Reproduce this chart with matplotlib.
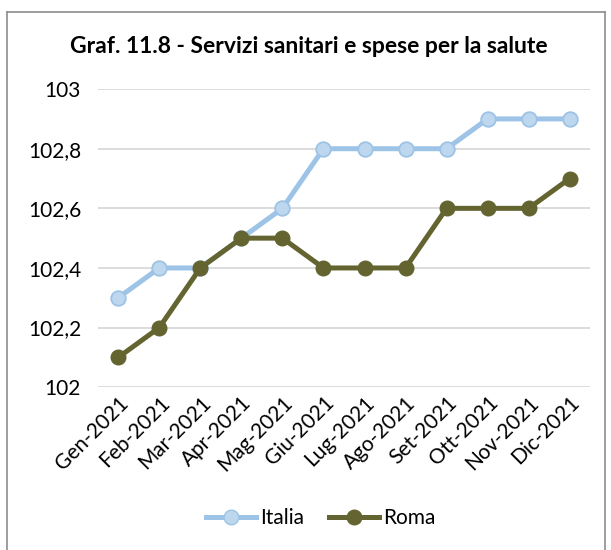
import matplotlib
matplotlib.use("Agg")
import matplotlib.pyplot as plt
from matplotlib.ticker import FuncFormatter
from matplotlib.lines import Line2D

plt.rcParams['font.family'] = ['Lato', 'DejaVu Sans']

mesi = ["Gen-2021", "Feb-2021", "Mar-2021", "Apr-2021", "Mag-2021", "Giu-2021",
        "Lug-2021", "Ago-2021", "Set-2021", "Ott-2021", "Nov-2021", "Dic-2021"]
italia = [102.3, 102.4, 102.4, 102.5, 102.6, 102.8, 102.8, 102.8, 102.8, 102.9, 102.9, 102.9]
roma = [102.1, 102.2, 102.4, 102.5, 102.5, 102.4, 102.4, 102.4, 102.6, 102.6, 102.6, 102.7]

fig = plt.figure(figsize=(6.11, 5.5), dpi=100)
ax = fig.add_axes([0.160, 0.296, 0.806, 0.542])

x = list(range(len(mesi)))
ax.plot(x, italia, color="#9DC3E6", lw=3.6, marker="o", ms=10.5,
        mfc="#BDD7EE", mec="#9DC3E6", mew=1.3, label="Italia", zorder=3)
ax.plot(x, roma, color="#646430", lw=3.6, marker="o", ms=10.5,
        mfc="#646430", mec="#646430", label="Roma", zorder=4)

ax.set_xlim(-0.5, len(mesi) - 0.5)
ax.set_ylim(102, 103)
ax.set_yticks([102, 102.2, 102.4, 102.6, 102.8, 103])
ax.yaxis.set_major_formatter(FuncFormatter(lambda v, p: ("%g" % round(v, 1)).replace(".", ",")))
ax.set_xticks(x)
ax.set_xticklabels(mesi, rotation=45, ha="right", rotation_mode="anchor", fontsize=15)
ax.tick_params(axis="y", labelsize=15, length=0, pad=12)
ax.tick_params(axis="x", length=0, pad=4)
ax.grid(axis="y", color="#D9D9D9", lw=1.3)
ax.set_axisbelow(True)
for s in ax.spines.values():
    s.set_visible(False)

fig.text(0.505, 0.915, "Graf. 11.8 - Servizi sanitari e spese per la salute",
         ha="center", va="center", fontsize=16.5, fontweight="bold")

handles = [
    Line2D([], [], color="#9DC3E6", lw=3.6, marker="o", ms=10.5, mfc="#BDD7EE", mec="#9DC3E6"),
    Line2D([], [], color="#646430", lw=3.6, marker="o", ms=10.5, mfc="#646430", mec="#646430"),
]
fig.legend(handles, ["Italia", "Roma"], loc="center", bbox_to_anchor=(0.525, 0.058),
           ncol=2, frameon=False, fontsize=15, handlelength=2.4, handletextpad=0.2,
           columnspacing=1.2)

# cornice
fig.add_artist(Line2D([0.012, 0.012], [0.0, 0.978], color="#8C8C8C", lw=1.2))
fig.add_artist(Line2D([0.012, 0.99], [0.978, 0.978], color="#8C8C8C", lw=1.2))
fig.add_artist(Line2D([0.99, 0.99], [0.0, 0.978], color="#8C8C8C", lw=1.2))

fig.savefig("out.png", dpi=100)
